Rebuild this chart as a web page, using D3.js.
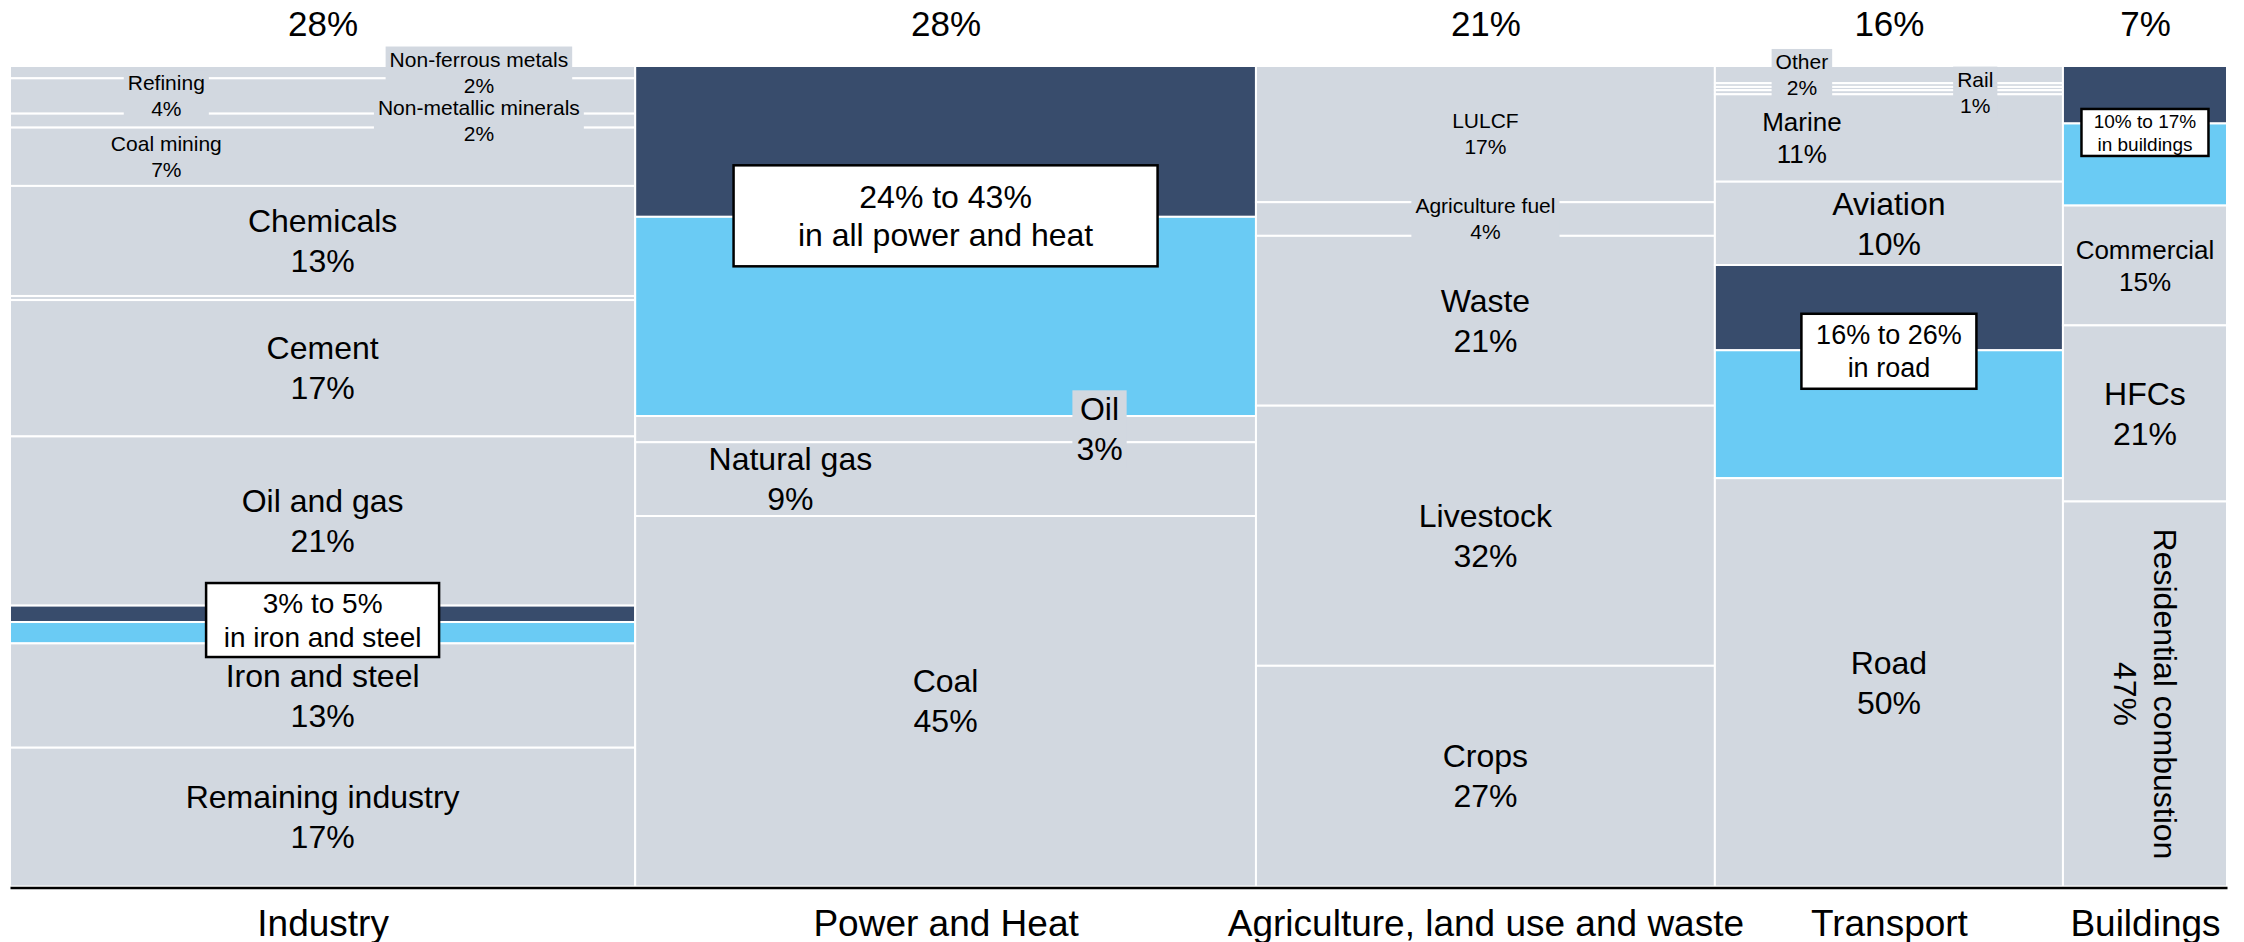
<!DOCTYPE html>
<html lang="en">
<head>
<meta charset="utf-8">
<title>Emissions by sector and subsector</title>
<script src="https://cdnjs.cloudflare.com/ajax/libs/d3/7.8.5/d3.min.js"></script>
<style>
	body { margin: 0; background: #fff; }
	svg { display: block; }
	text { font-family: 'Liberation Sans', Arial, sans-serif; fill: #000; }
</style>
</head>
<body>
<script>

// sectors (column widths = share of total emissions)
var sectors = ["Industry", "Power and Heat", "Agriculture, land use and waste", "Transport", "Buildings"];
var sectorShares = [28.2, 28.0, 20.7, 15.7, 7.4];

// subsectors, top to bottom, % of the sector ("" = thin unlabelled sliver)
var industryNames  = ["Non-ferrous metals", "Refining", "Non-metallic minerals", "Coal mining", "Chemicals", "", "Cement", "Oil and gas", "Iron and steel", "Remaining industry"];
var industryValues = [1.5, 4.3, 1.7, 7.1, 13.4, 0.5, 16.6, 20.6, 12.7, 16.9];

var powerNames  = ["Oil", "Natural gas", "Coal"];
var powerValues = [3.2, 9.0, 45.2];

var agriNames  = ["LULCF", "Agriculture fuel", "Waste", "Livestock", "Crops"];
var agriValues = [16.6, 4.1, 20.7, 31.7, 26.9];

var transportNames  = ["Other", "", "", "Rail", "Marine", "Aviation", "Road"];
var transportValues = [2.1, 0.45, 0.4, 0.5, 10.66, 10.16, 49.8];

var buildingsNames  = ["Commercial", "HFCs", "Residential combustion"];
var buildingsValues = [14.6, 21.45, 46.9];

// range bands (light = low end, dark = extra up to high end), sitting above a subsector
var rangeWhere = ["Iron and steel", "Oil", null, "Road", "Commercial"];
var rangeText  = ["in iron and steel", "in all power and heat", null, "in road", "in buildings"];
var rangeLow   = [2.6, 24.3, 0, 15.6, 10.0];
var rangeExtra = [2.0, 18.4, 0, 10.4, 7.0];

//----- layout / style -----
var W = 2244, H = 942;
var yTop = 66, yBottom = 886.5;

var colour = { grey: "#d2d8e0", high: "#384c6c", low: "#6acbf4" };
var fontSizes = { s: 21, m: 26, l: 32 };
var lineGap = { s: 26, m: 32, l: 40 };

// where labels sit inside their column (fx = fraction of column width), bg = grey box behind
var labelStyle = {
	"Non-ferrous metals": { fx: 0.75, size: "s", bg: true },
	"Refining": { fx: 0.25, size: "s", bg: true },
	"Non-metallic minerals": { fx: 0.75, size: "s", bg: true },
	"Coal mining": { fx: 0.25, size: "s" },
	"Oil": { fx: 0.748, bg: true },
	"Natural gas": { fx: 0.25 },
	"LULCF": { size: "s" },
	"Agriculture fuel": { size: "s", bg: true },
	"Other": { fx: 0.25, size: "s", bg: true },
	"Rail": { fx: 0.748, size: "s", bg: true },
	"Marine": { fx: 0.25, size: "m" },
	"Commercial": { size: "m" },
	"Residential combustion": { rotate: true }
};

// annotation boxes
var boxStyle = [
	{ w: 233, h: 74, font: 28, gap: 34, dy: -2 },
	{ w: 424, h: 101, font: 32, gap: 38, dy: -1 },
	null,
	{ w: 175, h: 75, font: 27, gap: 33, dy: 1 },
	{ w: 127, h: 47, font: 19, gap: 23, dy: 9 }
];

var svg = d3.select("body").append("svg")
	.attr("width", W)
	.attr("height", H);

var x = d3.scaleLinear()
	.domain([0, d3.sum(sectorShares)])
	.range([10, 2227]);

var starts = Array.from(d3.cumsum([0].concat(sectorShares)));
var mids = sectorShares.map(function(s, i) { return starts[i] + s / 2; });

var subNames = [industryNames, powerNames, agriNames, transportNames, buildingsNames];
var subValues = [industryValues, powerValues, agriValues, transportValues, buildingsValues];

var columns = sectors.map(function(s, i) {
	var segs = subNames[i].map(function(n, j) {
		return { name: n, value: subValues[i][j], kind: "grey" };
	});
	if (rangeWhere[i]) {
		var k = subNames[i].indexOf(rangeWhere[i]);
		segs.splice(k, 0,
			{ name: "", value: rangeExtra[i], kind: "high" },
			{ name: "", value: rangeLow[i], kind: "low" });
	}
	var y = d3.scaleLinear()
		.domain([0, d3.sum(segs, function(d) { return d.value; })])
		.range([yTop, yBottom]);
	var acc = 0;
	segs.forEach(function(d) {
		d.y0 = y(acc);
		acc += d.value;
		d.y1 = y(acc);
	});
	return { name: s, x0: x(starts[i]), x1: x(starts[i + 1]), segs: segs };
});

//Create blocks
var cols = svg.selectAll("g.col")
	.data(columns)
	.join("g")
	.attr("class", "col");

cols.selectAll("rect")
	.data(function(c) {
		return c.segs.map(function(s) { return Object.assign({ x0: c.x0, x1: c.x1 }, s); });
	})
	.join("rect")
	.attr("x", function(d) { return d.x0; })
	.attr("y", function(d) { return d.y0; })
	.attr("width", function(d) { return d.x1 - d.x0; })
	.attr("height", function(d) { return d.y1 - d.y0; })
	.attr("fill", function(d) { return colour[d.kind]; })
	.attr("stroke", "#fff")
	.attr("stroke-width", 2);

//Subsector labels
columns.forEach(function(c) {
	c.segs.filter(function(s) { return s.kind === "grey" && s.name; }).forEach(function(s) {
		var st = labelStyle[s.name] || {};
		var size = st.size || "l";
		var f = fontSizes[size], gap = lineGap[size];
		var cx = c.x0 + (st.fx != null ? st.fx : 0.5) * (c.x1 - c.x0);
		var cy = (s.y0 + s.y1) / 2;
		var lg = svg.append("g")
			.attr("transform", "translate(" + cx + "," + cy + ")" + (st.rotate ? " rotate(90)" : ""));
		var t = lg.append("text")
			.attr("text-anchor", "middle")
			.style("font-size", f + "px");
		t.append("tspan").attr("x", 0).attr("y", -gap / 2).attr("dy", "0.35em").text(s.name);
		t.append("tspan").attr("x", 0).attr("y", gap / 2).attr("dy", "0.35em").text(Math.round(s.value) + "%");
		if (st.bg) {
			var b = t.node().getBBox();
			lg.insert("rect", "text")
				.attr("x", b.x - 4)
				.attr("y", b.y - 1)
				.attr("width", b.width + 8)
				.attr("height", b.height + 2)
				.attr("fill", colour.grey);
		}
	});
});

//Range annotation boxes
columns.forEach(function(c, i) {
	if (!rangeWhere[i]) return;
	var hi = c.segs.find(function(s) { return s.kind === "high"; });
	var bs = boxStyle[i];
	var ag = svg.append("g")
		.attr("transform", "translate(" + ((c.x0 + c.x1) / 2) + "," + (hi.y1 + bs.dy) + ")");
	ag.append("rect")
		.attr("x", -bs.w / 2)
		.attr("y", -bs.h / 2)
		.attr("width", bs.w)
		.attr("height", bs.h)
		.attr("fill", "#fff")
		.attr("stroke", "#000")
		.attr("stroke-width", 2.5);
	var t = ag.append("text")
		.attr("text-anchor", "middle")
		.style("font-size", bs.font + "px");
	t.append("tspan").attr("x", 0).attr("y", -bs.gap / 2).attr("dy", "0.35em")
		.text(Math.round(rangeLow[i]) + "% to " + Math.round(rangeLow[i] + rangeExtra[i]) + "%");
	t.append("tspan").attr("x", 0).attr("y", bs.gap / 2).attr("dy", "0.35em")
		.text(rangeText[i]);
});

//Sector shares on top
svg.append("g")
	.attr("transform", "translate(0," + yTop + ")")
	.call(d3.axisTop(x)
		.tickValues(mids)
		.tickFormat(function(d, i) { return Math.round(sectorShares[i]) + "%"; })
		.tickSize(0)
		.tickPadding(30))
	.call(function(g) { g.select(".domain").remove(); })
	.selectAll("text")
	.style("font-size", "35px");

//Sector names + baseline
var xAxis = svg.append("g")
	.attr("transform", "translate(0,887.5)")
	.call(d3.axisBottom(x)
		.tickValues(mids)
		.tickFormat(function(d, i) { return sectors[i]; })
		.tickSize(0)
		.tickSizeOuter(0)
		.tickPadding(22));

xAxis.select(".domain")
	.attr("stroke", "#000")
	.attr("stroke-width", 2.5);

xAxis.selectAll("text")
	.style("font-size", "37px");

</script>
</body>
</html>
